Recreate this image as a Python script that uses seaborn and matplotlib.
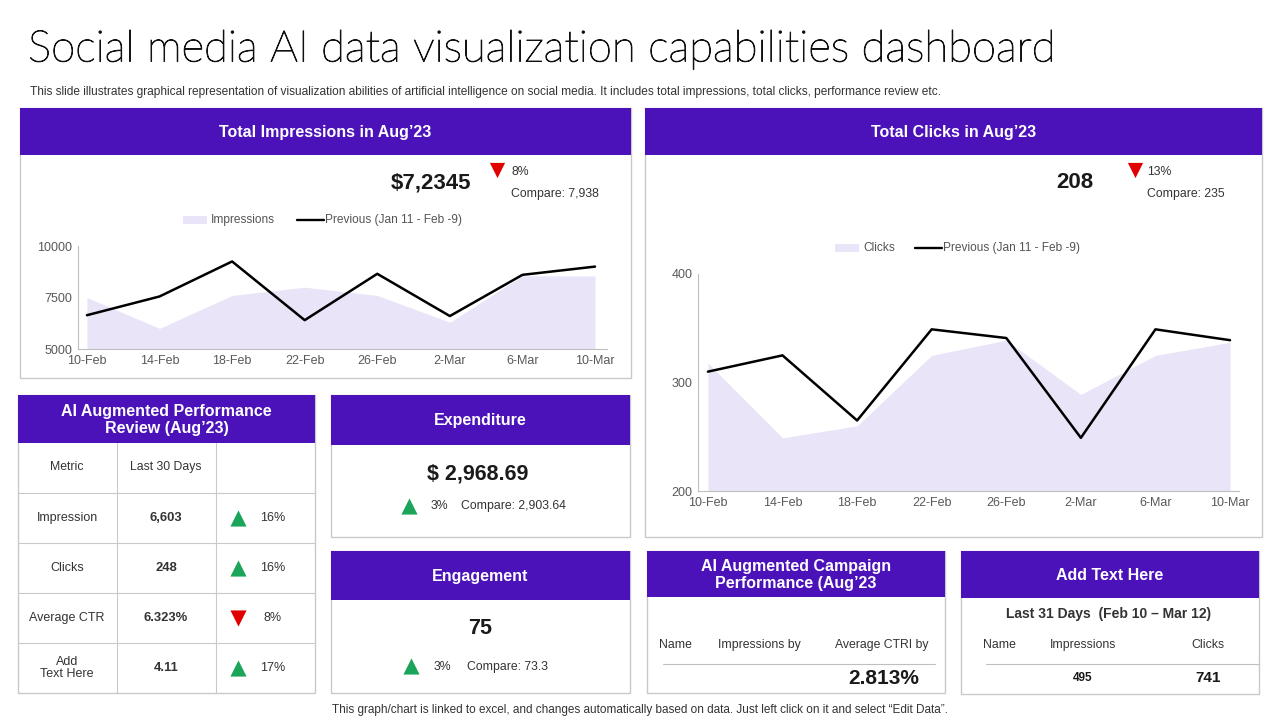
import numpy as np
import seaborn as sns
import matplotlib.pyplot as plt
import matplotlib.patheffects as pe
from matplotlib.patches import Rectangle

# data
dates = ["10-Feb", "14-Feb", "18-Feb", "22-Feb", "26-Feb", "2-Mar", "6-Mar", "10-Mar"]
impressions = [7500, 6000, 7600, 8000, 7600, 6300, 8550, 8550]
impressions_prev = [6640, 7550, 9250, 6400, 8650, 6600, 8600, 9000]
clicks = [318, 249, 260, 325, 339, 289, 325, 337]
clicks_prev = [310, 325, 265, 349, 341, 249, 349, 339]

review_metrics = ["Impression", "Clicks", "Average CTR", "Add\nText Here"]
review_values = ["6,603", "248", "6.323%", "4.11"]
review_change = [16, 16, -8, 17]

PURPLE = "#4B12BA"
LAVENDER = "#E9E4F7"
GREEN = "#1BA55A"
RED = "#E00000"
BORDER = "#C9C9C9"
W, H = 1280, 720

sns.set_style("white")
plt.rcParams["font.family"] = ["Liberation Sans", "DejaVu Sans"]

fig = plt.figure(figsize=(12.8, 7.2), dpi=100)
bg = fig.add_axes([0, 0, 1, 1])
bg.set_xlim(0, W)
bg.set_ylim(H, 0)
bg.axis("off")


def px_axes(x0, y0, x1, y1):
    return fig.add_axes([x0 / W, 1 - y1 / H, (x1 - x0) / W, (y1 - y0) / H])


def panel(x0, y0, x1, y1, hh, title, fs=11.5):
    bg.add_patch(Rectangle((x0, y0), x1 - x0, y1 - y0, fill=False, ec=BORDER, lw=1))
    bg.add_patch(Rectangle((x0, y0), x1 - x0, hh, color=PURPLE, lw=0))
    bg.text((x0 + x1) / 2, y0 + hh / 2 + 1, title, color="white", fontsize=fs,
            fontweight="bold", ha="center", va="center", linespacing=1.1)


def tri(x, y, up, s=90):
    bg.scatter([x], [y], marker="^" if up else "v", s=s, color=GREEN if up else RED, lw=0)


def txt(x, y, s, fs=8.8, ha="left", **kw):
    kw.setdefault("color", "#333333")
    bg.text(x, y, s, fontsize=fs, ha=ha, va="center", **kw)


# title
bg.text(28, 50, "Social media AI data visualization capabilities dashboard",
        fontsize=31.5, family=["Lato", "DejaVu Sans"], fontweight="light",
        color="#111111", va="center", ha="left",
        path_effects=[pe.withStroke(linewidth=0.7, foreground="#111111")])
txt(30, 92, "This slide illustrates graphical representation of visualization abilities of artificial "
    "intelligence on social media. It includes total impressions, total clicks, performance review etc.",
    fs=8.6)
txt(640, 710, "This graph/chart is linked to excel, and changes automatically based on data. "
    "Just left click on it and select \u201cEdit Data\u201d.", fs=8.5, ha="center")

# panels
panel(20, 108, 631, 378, 47, "Total Impressions in Aug\u201923")
panel(645, 108, 1262, 537, 47, "Total Clicks in Aug\u201923")
panel(18, 395, 315, 693, 48, "AI Augmented Performance\nReview (Aug\u201923)")
panel(331, 395, 630, 537, 50, "Expenditure")
panel(331, 551, 630, 693, 49, "Engagement")
panel(647, 551, 945, 693, 46, "AI Augmented Campaign\nPerformance (Aug\u201923")
panel(961, 551, 1259, 694, 47, "Add Text Here")

# KPI texts - impressions
txt(431, 183, "$7,2345", fs=16, ha="center", fontweight="bold", color="#1a1a1a")
tri(497, 170, False, 120)
txt(511, 172, "8%")
txt(511, 194, "Compare: 7,938")
# clicks
txt(1075, 183, "208", fs=16, ha="center", fontweight="bold", color="#1a1a1a")
tri(1135, 170, False, 120)
txt(1147, 172, "13%")
txt(1147, 194, "Compare: 235")


# legends
def legend(x, y, name):
    bg.add_patch(Rectangle((x, y - 4), 24, 8, color=LAVENDER, lw=0))
    txt(x + 28, y, name, fs=8.6, color="#555555")
    lx = x + 114 if name == "Impressions" else x + 80
    bg.plot([lx, lx + 27], [y, y], color="black", lw=1.7)
    txt(lx + 28, y, "Previous (Jan 11 - Feb -9)", fs=8.6, color="#555555")


legend(183, 220, "Impressions")
legend(835, 248, "Clicks")

# charts
xs = np.arange(len(dates))


def chart(ax, area, prev, lims, ticks, xl):
    ax.set_facecolor("none")
    ax.fill_between(xs, lims[0], area, color=LAVENDER, lw=0)
    sns.lineplot(x=xs, y=prev, ax=ax, color="black", lw=1.8)
    ax.set_xlim(*xl)
    ax.set_ylim(*lims)
    ax.set_yticks(ticks)
    ax.set_xticks(xs)
    ax.set_xticklabels(dates)
    ax.tick_params(length=0, labelsize=9, labelcolor="#595959", pad=4)
    for s in ["top", "right"]:
        ax.spines[s].set_visible(False)
    for s in ["left", "bottom"]:
        ax.spines[s].set_color("#BFBFBF")
        ax.spines[s].set_linewidth(0.8)


ax1 = px_axes(77.5, 246, 607, 349)
chart(ax1, impressions, impressions_prev, (5000, 10000), [5000, 7500, 10000], (-0.13, 7.165))
ax2 = px_axes(698, 274, 1239, 491)
chart(ax2, clicks, clicks_prev, (200, 400), [200, 300, 400], (-0.133, 7.12))

# review table
for x in [117, 216]:
    bg.plot([x, x], [443, 693], color=BORDER, lw=0.8)
for y in [493, 543, 593, 643]:
    bg.plot([18, 315], [y, y], color=BORDER, lw=0.8)
txt(67, 467, "Metric", ha="center")
txt(166, 467, "Last 30 Days", ha="center")
for i, (m, v, c) in enumerate(zip(review_metrics, review_values, review_change)):
    yc = 518 + 50 * i
    txt(67, yc, m, fs=9, ha="center", linespacing=1.1)
    txt(166, yc, v, fs=9.4, ha="center", fontweight="bold")
    tri(238, yc, c > 0, 135)
    txt(273, yc, f"{abs(c)}%", fs=9, ha="center")

# expenditure
txt(478, 474, "$ 2,968.69", fs=15.5, ha="center", fontweight="bold", color="#1a1a1a")
tri(409, 506, True, 135)
txt(431, 506, "3%")
txt(461, 506, "Compare: 2,903.64")

# engagement
txt(480, 628, "75", fs=15.5, ha="center", fontweight="bold", color="#1a1a1a")
tri(411, 666, True, 135)
txt(434, 667, "3%")
txt(467, 667, "Compare: 73.3")

# campaign
txt(675, 645, "Name", ha="center")
txt(759, 645, "Impressions by", ha="center")
txt(882, 645, "Average CTRI by", ha="center")
bg.plot([663, 935], [664, 664], color="#BFBFBF", lw=0.8)
txt(884, 678, "2.813%", fs=15, ha="center", fontweight="bold", color="#1a1a1a")

# add text here
txt(1109, 614, "Last 31 Days  (Feb 10 \u2013 Mar 12)", fs=10, ha="center", fontweight="bold")
txt(999, 645, "Name", ha="center")
txt(1083, 645, "Impressions", ha="center")
txt(1208, 645, "Clicks", ha="center")
bg.plot([986, 1259], [664, 664], color="#BFBFBF", lw=0.8)
txt(1083, 678, "495", fs=8.5, ha="center", fontweight="bold", color="#1a1a1a")
txt(1208, 678, "741", fs=11, ha="center", fontweight="bold", color="#1a1a1a")

fig.savefig("out.png", dpi=100)
